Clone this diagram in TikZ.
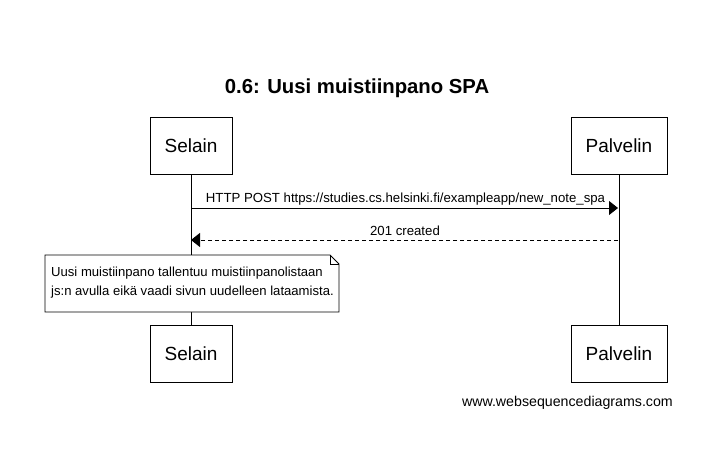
\documentclass[tikz,border=0pt]{standalone}
\usepackage{fontspec}
\setmainfont{Liberation Sans}
\usepackage{tikz}
\usetikzlibrary{arrows.meta,positioning}
\tikzstyle{actor} = [rectangle, draw=black, fill=white, minimum width=82pt, minimum height=57pt, inner sep=0pt, text centered, font=\fontsize{19}{22}\selectfont]
\tikzstyle{lifeline} = [draw=black, line width=0.8pt]
\tikzstyle{msg} = [line width=0.9pt, -{Triangle[length=9pt,width=14pt]}]
\tikzstyle{msglabel} = [font=\fontsize{13.2}{15}\selectfont, inner sep=0pt, anchor=base]

\begin{document}
\begin{tikzpicture}[x=1pt, y=-1pt]
\useasboundingbox (0,0) rectangle (712,474);

% Title
\node[font=\bfseries\fontsize{20.3}{24}\selectfont, anchor=base] (title) at (357,93) {0.6: Uusi muistiinpano SPA};

% Participants
\node[actor] (selain) at (191,146) {Selain};
\node[actor, minimum width=96pt] (palvelin) at (619,146) {Palvelin};
\node[actor] (selainbot) at (191,354) {Selain};
\node[actor, minimum width=96pt] (palvelinbot) at (619,354) {Palvelin};

% Lifelines
\draw[lifeline] (selain) -- (selainbot);
\draw[lifeline] (palvelin) -- (palvelinbot);

% Messages
\coordinate (selain1) at (191,208);
\coordinate (palvelin1) at (618,208);
\coordinate (selain2) at (191,240);
\coordinate (palvelin2) at (618,240);
\draw[msg] (selain1) -- (palvelin1);
\node[msglabel] (msg1) at (405.5,202) {HTTP POST https://studies.cs.helsinki.fi/exampleapp/new\_note\_spa};
\draw[msg, dashed, dash pattern=on 4pt off 3pt] (palvelin2) -- (selain2);
\node[msglabel] (msg2) at (405,235) {201 created};

% Note
\draw[fill=white, line width=0.8pt] (45,255) -- (330,255) -- (339,264) -- (339,312) -- (45,312) -- cycle;
\draw[line width=0.5pt] (330,255) -- (330,264) -- (339,264);
\node[font=\fontsize{13.1}{19}\selectfont, align=left, anchor=north west, inner sep=0pt] (note) at (51,267) {Uusi muistiinpano tallentuu muistiinpanolistaan\\js:n avulla eikä vaadi sivun uudelleen lataamista.};

% Watermark
\node[font=\fontsize{14.2}{16}\selectfont, anchor=base east, inner sep=0pt] (wsd) at (673,406) {www.websequencediagrams.com};
\end{tikzpicture}
\end{document}
